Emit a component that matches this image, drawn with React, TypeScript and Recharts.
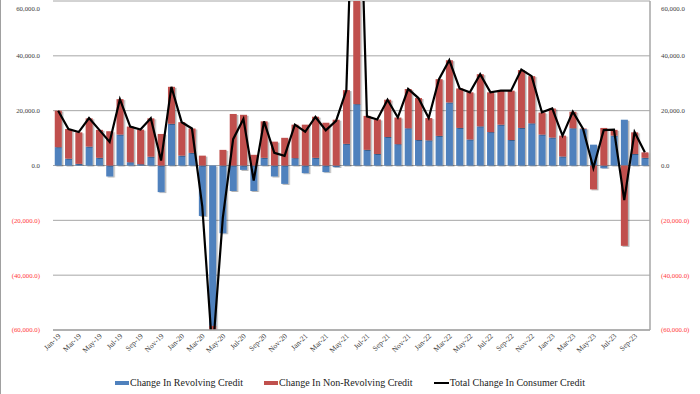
import React from 'react';
import { ComposedChart, Bar, Line, XAxis, YAxis, CartesianGrid, Legend } from 'recharts';

const months = [
  'Jan-19','Feb-19','Mar-19','Apr-19','May-19','Jun-19','Jul-19','Aug-19','Sep-19','Oct-19','Nov-19','Dec-19',
  'Jan-20','Feb-20','Mar-20','Apr-20','May-20','Jun-20','Jul-20','Aug-20','Sep-20','Oct-20','Nov-20','Dec-20',
  'Jan-21','Feb-21','Mar-21','Apr-21','May-21','Jun-21','Jul-21','Aug-21','Sep-21','Oct-21','Nov-21','Dec-21',
  'Jan-22','Feb-22','Mar-22','Apr-22','May-22','Jun-22','Jul-22','Aug-22','Sep-22','Oct-22','Nov-22','Dec-22',
  'Jan-23','Feb-23','Mar-23','Apr-23','May-23','Jun-23','Jul-23','Aug-23','Sep-23','Oct-23',
];

const revolving = [
  6700, 2500, 600, 6900, 2800, -4000, 11300, 1200, 500, 3200, -9700, 15200,
  3600, 4600, -18400, -58500, -24700, -9300, -1600, -9300, 2800, -4000, -6700, 2700,
  -2800, 2800, -2400, -600, 7900, 22400, 5700, 4200, 10400, 7800, 13600, 9300,
  9200, 10800, 23000, 13700, 9500, 14300, 12200, 14900, 9300, 13700, 15400, 11300,
  10200, 3300, 13600, 13300, 7600, -1000, 10900, 16700, 4200, 2800,
];

const nonRevolving = [
  13300, 10800, 11500, 10300, 10200, 12500, 12900, 13000, 12600, 14000, 11500, 13500,
  12200, 8900, 3600, -10300, 5700, 18800, 18500, 3900, 13300, 8700, 10100, 12200,
  14900, 15000, 15600, 16700, 19600, 124600, 12400, 12600, 13600, 9700, 14300, 15300,
  8100, 20700, 15400, 14400, 17200, 19000, 14500, 12400, 18000, 21100, 17200, 8000,
  10600, 7600, 6000, 200, -8700, 13700, 2100, -29300, 7900, 2000,
];

const totalChange = [
  20000, 13300, 12200, 17300, 13000, 8600, 24200, 14200, 13100, 17200, 1800, 28700,
  15800, 13500, -14800, -68800, -19000, 9600, 17000, -5500, 16100, 4600, 3500, 14900,
  12300, 17700, 12800, 16300, 27400, 147000, 17900, 16800, 24000, 17500, 27900, 24600,
  17300, 31500, 38400, 28100, 26700, 33300, 26700, 27300, 27300, 35000, 32600, 19400,
  20800, 10900, 19600, 13300, -900, 12900, 13100, -12600, 12200, 4800,
];

const yTicks = [-60000, -40000, -20000, 0, 20000, 40000, 60000];

const seriesNames = {
  revolving: 'Change In Revolving Credit',
  nonRevolving: 'Change In Non-Revolving Credit',
  total: 'Total Change In Consumer Credit',
};

const BLUE = '#4F81BD';
const RED = '#C0504D';
const GRID = '#A6A6A6';
const FONT = "'Liberation Serif', 'Times New Roman', serif";

const data = months.map((m, i) => ({
  month: m,
  revolving: revolving[i],
  nonRevolving: nonRevolving[i],
  total: totalChange[i],
}));

const fmt = (v: number) => {
  const s = Math.abs(v).toLocaleString('en-US', { minimumFractionDigits: 1, maximumFractionDigits: 1 });
  return v < 0 ? `(${s})` : s;
};

const YTick = (props: any) => {
  const { x, y, payload, textAnchor } = props;
  const v = payload.value as number;
  return (
    <text x={x} y={y} dy="0.35em" textAnchor={textAnchor} fontSize={6.8} fontFamily={FONT}
      fill={v < 0 ? '#FF3B3B' : '#404040'}>
      {fmt(v)}
    </text>
  );
};

const XTick = (props: any) => {
  const { x, y, payload } = props;
  const ax = x + 3;
  const ay = y + 1.5;
  return (
    <text x={ax} y={ay} transform={`rotate(-45 ${ax} ${ay})`} textAnchor="end" fontSize={7.5}
      fontFamily={FONT} fill="#404040">
      {payload.value}
    </text>
  );
};

const ShadowRect = (props: any) => {
  const { x, y, width, height, fill } = props;
  if (width == null || height == null) return null;
  const ry = height < 0 ? y + height : y;
  const rh = Math.abs(height);
  return <rect x={x} y={ry} width={width} height={rh} fill={fill} filter="url(#barShadow)" />;
};

const LegendContent = () => (
  <div style={{ display: 'flex', justifyContent: 'center', alignItems: 'center', gap: 21, fontFamily: FONT,
    fontSize: 10, color: '#222', height: 18, lineHeight: '18px' }}>
    <div style={{ display: 'flex', alignItems: 'center' }}>
      <span style={{ display: 'inline-block', width: 14, height: 4, background: BLUE, marginRight: 1 }} />
      <span>{seriesNames.revolving}</span>
    </div>
    <div style={{ display: 'flex', alignItems: 'center' }}>
      <span style={{ display: 'inline-block', width: 14, height: 4, background: RED, marginRight: 1 }} />
      <span>{seriesNames.nonRevolving}</span>
    </div>
    <div style={{ display: 'flex', alignItems: 'center' }}>
      <span style={{ display: 'inline-block', width: 15, height: 2, background: '#000', marginRight: 1 }} />
      <span>{seriesNames.total}</span>
    </div>
  </div>
);

export default function App() {
  return (
    <div style={{ position: 'fixed', left: 0, top: 0, width: 700, height: 394, background: '#fff', overflow: 'hidden' }}>
      <div style={{ position: 'absolute', left: 0, top: 0, width: 1, height: 394, background: '#A0A0A0' }} />
      <ComposedChart
        width={700}
        height={394}
        data={data}
        stackOffset="sign"
        barCategoryGap="17%"
        margin={{ top: 1, right: 0, bottom: 2, left: 0 }}
      >
        <defs>
          <filter id="barShadow" x="-50%" y="-10%" width="200%" height="130%">
            <feDropShadow dx="1.5" dy="1" stdDeviation="0.7" floodColor="#000" floodOpacity="0.3" />
          </filter>
        </defs>
        <CartesianGrid vertical={false} stroke={GRID} strokeWidth={1} />
        <XAxis
          dataKey="month"
          interval={1}
          height={44}
          tickSize={0}
          tickMargin={5}
          tickLine={false}
          axisLine={{ stroke: GRID, strokeWidth: 1.5 }}
          tick={<XTick />}
        />
        <YAxis
          domain={[-60000, 60000]}
          ticks={yTicks}
          allowDataOverflow
          width={53}
          axisLine={false}
          tickLine={false}
          tickMargin={7}
          tick={<YTick />}
        />
        <YAxis
          yAxisId="r"
          orientation="right"
          domain={[-60000, 60000]}
          ticks={yTicks}
          allowDataOverflow
          width={50}
          axisLine={{ stroke: GRID, strokeWidth: 1.5 }}
          tickLine={false}
          tickMargin={5}
          tick={<YTick />}
        />
        <Legend verticalAlign="bottom" height={18} content={() => <LegendContent />} />
        <Bar dataKey="revolving" name={seriesNames.revolving} stackId="a" fill={BLUE} isAnimationActive={false} shape={<ShadowRect />} />
        <Bar dataKey="nonRevolving" name={seriesNames.nonRevolving} stackId="a" fill={RED} isAnimationActive={false} shape={<ShadowRect />} />
        <Line dataKey="total" name={seriesNames.total} type="linear" stroke="#000" strokeWidth={2.2} dot={false} isAnimationActive={false} />
      </ComposedChart>
    </div>
  );
}
